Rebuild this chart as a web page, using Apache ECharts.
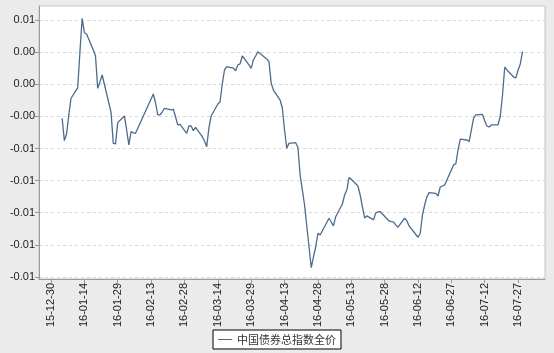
<!DOCTYPE html>
<html>
<head>
<meta charset="utf-8">
<title>中国债券总指数全价</title>
<script src="https://cdn.jsdelivr.net/npm/echarts@6/dist/echarts.min.js"></script>
<style>
html, body { margin: 0; padding: 0; background: #ebebeb; }
#main { width: 554px; height: 353px; }
</style>
</head>
<body>
<div id="main"></div>
<script>
// 交易日
var dates = [
	'2016-01-04','2016-01-05','2016-01-06','2016-01-07','2016-01-08','2016-01-11','2016-01-12','2016-01-13','2016-01-14','2016-01-15',
	'2016-01-18','2016-01-19','2016-01-20','2016-01-21','2016-01-22','2016-01-25','2016-01-26','2016-01-27','2016-01-28','2016-01-29',
	'2016-02-01','2016-02-02','2016-02-03','2016-02-04','2016-02-05','2016-02-06','2016-02-14','2016-02-15','2016-02-16','2016-02-17',
	'2016-02-18','2016-02-19','2016-02-22','2016-02-23','2016-02-24','2016-02-25','2016-02-26','2016-02-29','2016-03-01','2016-03-02',
	'2016-03-03','2016-03-04','2016-03-07','2016-03-08','2016-03-09','2016-03-10','2016-03-11','2016-03-14','2016-03-15','2016-03-16',
	'2016-03-17','2016-03-18','2016-03-21','2016-03-22','2016-03-23','2016-03-24','2016-03-25','2016-03-28','2016-03-29','2016-03-30',
	'2016-03-31','2016-04-01','2016-04-05','2016-04-06','2016-04-07','2016-04-08','2016-04-11','2016-04-12','2016-04-13','2016-04-14',
	'2016-04-15','2016-04-18','2016-04-19','2016-04-20','2016-04-21','2016-04-22','2016-04-25','2016-04-26','2016-04-27','2016-04-28',
	'2016-04-29','2016-05-03','2016-05-04','2016-05-05','2016-05-06','2016-05-09','2016-05-10','2016-05-11','2016-05-12','2016-05-13',
	'2016-05-16','2016-05-17','2016-05-18','2016-05-19','2016-05-20','2016-05-23','2016-05-24','2016-05-25','2016-05-26','2016-05-27',
	'2016-05-30','2016-05-31','2016-06-01','2016-06-02','2016-06-03','2016-06-06','2016-06-07','2016-06-08','2016-06-12','2016-06-13',
	'2016-06-14','2016-06-15','2016-06-16','2016-06-17','2016-06-20','2016-06-21','2016-06-22','2016-06-23','2016-06-24','2016-06-27',
	'2016-06-28','2016-06-29','2016-06-30','2016-07-01','2016-07-04','2016-07-05','2016-07-06','2016-07-07','2016-07-08','2016-07-11',
	'2016-07-12','2016-07-13','2016-07-14','2016-07-15','2016-07-18','2016-07-19','2016-07-20','2016-07-21','2016-07-22','2016-07-25',
	'2016-07-26','2016-07-27','2016-07-28','2016-07-29'
];

// 中国债券总指数全价
var values = [
	-0.00265,-0.00439,-0.00387,-0.00239,-0.00109,-0.00029,0.00251,0.00513,0.00401,0.00391,
	0.00267,0.0022,-0.00032,0.00018,0.00072,-0.00146,-0.00221,-0.0046,-0.00465,-0.00299,
	-0.00247,-0.00356,-0.00473,-0.00369,-0.00379,-0.00382,-0.00076,-0.00146,-0.00239,-0.00239,
	-0.00216,-0.00187,-0.002,-0.00195,-0.00255,-0.00317,-0.00312,-0.00382,-0.00325,-0.00325,
	-0.00361,-0.00335,-0.00408,-0.00442,-0.00486,-0.0034,-0.00247,-0.00154,-0.00138,0.00002,
	0.00111,0.00137,0.00126,0.00105,0.0015,0.00158,0.0022,0.0015,0.00124,0.00189,
	0.0022,0.00253,0.00197,0.00175,0.00007,-0.00045,-0.00123,-0.00185,-0.00356,-0.00498,
	-0.0046,-0.00455,-0.00491,-0.00706,-0.00823,-0.0094,-0.01428,-0.01344,-0.01267,-0.0116,
	-0.01173,-0.01043,-0.01072,-0.01103,-0.01031,-0.00932,-0.00862,-0.00823,-0.00727,-0.0074,
	-0.00792,-0.00862,-0.00955,-0.01041,-0.01025,-0.01056,-0.01002,-0.00994,-0.00992,-0.0101,
	-0.01064,-0.0107,-0.01072,-0.01095,-0.01113,-0.01043,-0.01064,-0.01103,-0.01191,-0.0116,
	-0.01018,-0.0094,-0.00877,-0.00844,-0.0085,-0.0087,-0.008,-0.00792,-0.00784,-0.00667,
	-0.00628,-0.0062,-0.00512,-0.00428,-0.00434,-0.00447,-0.00356,-0.00263,-0.00239,-0.00235,
	-0.00286,-0.00325,-0.00333,-0.00317,-0.00317,-0.00247,-0.00084,0.00134,0.00111,0.00056,
	0.00049,0.00111,0.00158,0.00253
];

// 坐标轴刻度
var xTickDates = ['2015-12-30','2016-01-14','2016-01-29','2016-02-13','2016-02-28','2016-03-14','2016-03-29',
	'2016-04-13','2016-04-28','2016-05-13','2016-05-28','2016-06-12','2016-06-27','2016-07-12','2016-07-27'];
var yTicks = [-0.015, -0.0125, -0.01, -0.0075, -0.005, -0.0025, 0, 0.0025, 0.005];

var seriesName = '中国债券总指数全价';
var DAY = 86400000;

function toTime(s){
	var p = s.split('-');
	return Date.UTC(parseInt(p[0], 10), parseInt(p[1], 10) - 1, parseInt(p[2], 10));
}

function pad(n){
	return n < 10 ? '0' + n : '' + n;
}

function dateLabel(t){
	var d = new Date(t);
	return pad(d.getUTCFullYear() % 100) + '-' + pad(d.getUTCMonth() + 1) + '-' + pad(d.getUTCDate());
}

function makechart(){
	var points = [];
	for (var i = 0; i < dates.length; i++) {
		points.push([toTime(dates[i]), values[i]]);
	}
	var xTicks = xTickDates.map(toTime);
	var base = toTime('2015-12-30');

	var myChart = echarts.init(document.getElementById('main'));
	myChart.setOption({
		animation: false,
		backgroundColor: '#ebebeb',
		textStyle: { fontFamily: 'Liberation Sans' },
		grid: {
			left: 39,
			right: 9,
			top: 6,
			bottom: 74,
			show: true,
			backgroundColor: '#ffffff',
			borderColor: '#c4c4c4',
			borderWidth: 1
		},
		legend: {
			data: [seriesName],
			left: 'center',
			top: 330,
			icon: 'rect',
			itemWidth: 14,
			itemHeight: 1,
			itemGap: 5,
			padding: [4, 5, 4, 5],
			backgroundColor: '#ffffff',
			borderColor: '#000000',
			borderWidth: 1,
			borderRadius: 0,
			textStyle: {
				fontFamily: 'Noto Sans CJK SC',
				fontSize: 11,
				color: '#333333'
			}
		},
		xAxis: {
			type: 'value',
			min: base - 5.4 * DAY,
			max: base + 222.1 * DAY,
			axisLine: { onZero: false, lineStyle: { color: '#9a9a9a' } },
			axisTick: { show: true, length: 4, customValues: xTicks, lineStyle: { color: '#9a9a9a' } },
			axisLabel: {
				customValues: xTicks,
				rotate: 90,
				margin: 4,
				fontSize: 11,
				color: '#222222',
				formatter: function (v) { return dateLabel(v); }
			},
			splitLine: { show: false }
		},
		yAxis: {
			type: 'value',
			min: -0.01516,
			max: 0.00609,
			axisLine: { show: true, onZero: false, lineStyle: { color: '#9a9a9a' } },
			axisTick: { show: true, length: 4, customValues: yTicks, lineStyle: { color: '#9a9a9a' } },
			axisLabel: {
				customValues: yTicks,
				margin: 4,
				fontSize: 11,
				color: '#222222',
				formatter: function (v) { return v.toFixed(2); }
			},
			splitLine: { show: true, lineStyle: { color: '#d8d8d8', type: [3, 3] } }
		},
		series: [
			{
				name: seriesName,
				type: 'line',
				data: points,
				showSymbol: false,
				symbol: 'none',
				lineStyle: { color: '#4d6b8c', width: 1.3 },
				itemStyle: { color: '#4d6b8c' }
			}
		]
	});
}

makechart();
</script>
</body>
</html>
